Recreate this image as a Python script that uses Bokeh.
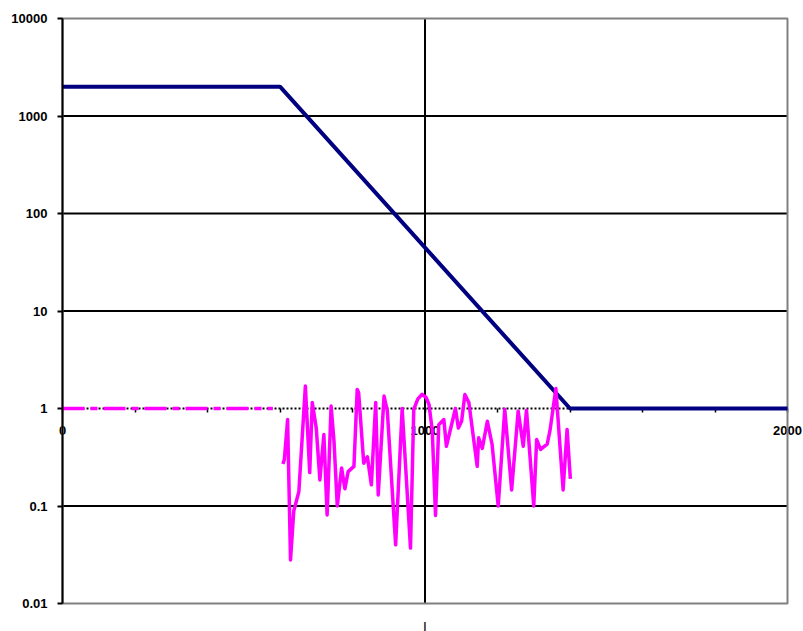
from bokeh.plotting import figure
from bokeh.models import FixedTicker, LinearAxis, LogAxis, Label, Range1d
from bokeh.embed import file_html
from bokeh.resources import INLINE

# Decay curve: flat plateau, log-linear fall, flat floor
decay_x = [0, 600, 1400, 2000]
decay_y = [2000, 2000, 1, 1]

# Ratio series: constant lead-in, then the measured scatter
ratio_lead_x = [0, 580]
ratio_lead_y = [1, 1]

ratio_x = [608, 612, 621, 629, 638, 652, 670, 682, 689, 700, 710, 721, 730, 741,
           749, 758, 770, 779, 788, 804, 813, 817, 831, 841, 852, 864, 871, 887,
           896, 919, 937, 960, 969, 980, 992, 1003, 1011, 1020, 1029, 1038, 1052,
           1059, 1084, 1092, 1101, 1110, 1121, 1144, 1148, 1158, 1172, 1185, 1202,
           1220, 1239, 1257, 1271, 1280, 1300, 1308, 1319, 1337, 1345, 1361, 1381,
           1392, 1401]
ratio_y = [0.27, 0.3, 0.77, 0.028, 0.089, 0.14, 1.7, 0.22, 1.15, 0.63, 0.185, 0.54,
           0.081, 1.06, 0.46, 0.1, 0.245, 0.15, 0.225, 0.255, 1.57, 1.45, 0.275,
           0.32, 0.165, 1.15, 0.13, 1.34, 0.95, 0.04, 1.0, 0.037, 0.98, 1.25, 1.4,
           1.3, 1.1, 0.6, 0.08, 0.68, 0.77, 0.41, 1.0, 0.63, 0.74, 1.39, 1.15, 0.255,
           0.5, 0.39, 0.74, 0.43, 0.1, 0.98, 0.146, 0.94, 0.41, 0.96, 0.1, 0.48,
           0.38, 0.43, 0.6, 1.6, 0.146, 0.61, 0.19]

y_ticks = [0.01, 0.1, 1, 10, 100, 1000, 10000]
y_tick_labels = ["0.01", "0.1", "1", "10", "100", "1000", "10000"]
y_grid_values = [0.1, 10, 100, 1000]

x_tick_values = [0, 1000, 2000]
x_minor_ticks = [200, 400, 600, 800, 1200, 1400, 1600, 1800]
x_grid_values = [1000]
x_title = "|"

FONT = "Liberation Sans"
NAVY = "#000080"
MAGENTA = "#FF00FF"
GRAY = "#808080"

# Plot-area extent in data units and its placement on the 803x631 canvas.
X_MIN, X_MAX = 0, 2000
Y_MIN, Y_MAX = 0.01, 10000
W, H = 803, 631
AREA_LEFT, AREA_RIGHT, AREA_TOP, AREA_BOTTOM = 62, 787, 18, 603

# The frame fills the whole canvas so the axes can sit inside it
# with their labels hanging past the plot-area edges.
px_per_x = (AREA_RIGHT - AREA_LEFT) / (X_MAX - X_MIN)
px_per_decade = (AREA_BOTTOM - AREA_TOP) / 6.0
x_range = Range1d(X_MIN - AREA_LEFT / px_per_x, X_MAX + (W - AREA_RIGHT) / px_per_x)
y_range = Range1d(Y_MIN / 10 ** ((H - AREA_BOTTOM) / px_per_decade),
                  Y_MAX * 10 ** (AREA_TOP / px_per_decade))

p = figure(width=W, height=H, y_axis_type="log",
           x_range=x_range, y_range=y_range,
           x_axis_location=None, y_axis_location=None,
           output_backend="svg", toolbar_location=None,
           min_border=0, outline_line_color=None)
p.background_fill_color = "white"
p.border_fill_color = "white"
for g in p.grid:
    g.visible = False

# gridlines limited to the plot area
p.segment(x0=[X_MIN] * len(y_grid_values), x1=[X_MAX] * len(y_grid_values),
          y0=y_grid_values, y1=y_grid_values,
          line_color="black", line_width=2, level="underlay")
p.segment(x0=x_grid_values, x1=x_grid_values,
          y0=[Y_MIN] * len(x_grid_values), y1=[Y_MAX] * len(x_grid_values),
          line_color="black", line_width=2, level="underlay")

# horizontal axis crossing the log axis at y = 1, under the data lines
cross_axis = LinearAxis(
    fixed_location=1, bounds=(X_MIN, X_MAX),
    ticker=FixedTicker(ticks=x_tick_values, minor_ticks=x_minor_ticks),
    axis_line_color="black", axis_line_width=2, axis_line_dash="2 2",
    major_tick_line_color="black", major_tick_line_width=1.5,
    major_tick_out=4, major_tick_in=0,
    minor_tick_line_color="black", minor_tick_line_width=1.5,
    minor_tick_out=4, minor_tick_in=0,
    major_label_standoff=13,
    major_label_text_font=FONT, major_label_text_font_size="13px",
    major_label_text_font_style="bold", major_label_text_color="black",
    level="underlay")
p.add_layout(cross_axis, "below")

# gray plot-area border
p.quad(left=[X_MIN], right=[X_MAX], bottom=[Y_MIN], top=[Y_MAX],
       fill_color=None, line_color=GRAY, line_width=2)

p.line(decay_x, decay_y, line_color=NAVY, line_width=4)
p.line(ratio_lead_x, ratio_lead_y, line_color=MAGENTA, line_width=3.5,
       line_dash="22 6 7 6")
p.line(ratio_x, ratio_y, line_color=MAGENTA, line_width=3.5,
       line_join="round")

# vertical value axis at x = 0
value_axis = LogAxis(
    fixed_location=X_MIN, bounds=(Y_MIN, Y_MAX),
    ticker=FixedTicker(ticks=y_ticks),
    major_label_overrides=dict(zip(y_ticks, y_tick_labels)),
    axis_line_color="black", axis_line_width=2,
    major_tick_line_color="black", major_tick_line_width=2,
    major_tick_out=5, major_tick_in=0, minor_tick_line_color=None,
    major_label_standoff=10,
    major_label_text_font=FONT, major_label_text_font_size="13px",
    major_label_text_font_style="bold", major_label_text_color="black")
p.add_layout(value_axis, "left")

p.add_layout(Label(x=1000, y=Y_MIN, text=x_title, text_align="center",
                   text_baseline="bottom", y_offset=-(H - AREA_BOTTOM),
                   text_font=FONT, text_font_size="10px",
                   text_font_style="bold", text_color="black"))

open("out.html", "w").write(file_html(p, INLINE))
